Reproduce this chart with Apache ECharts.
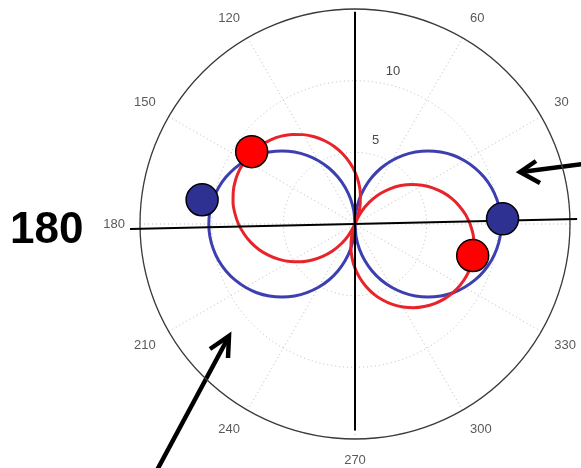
<!DOCTYPE html>
<html>
<head>
<meta charset="utf-8">
<script src="https://cdn.jsdelivr.net/npm/echarts@6/dist/echarts.min.js"></script>
<style>
  html, body { margin: 0; padding: 0; background: #fff; }
  #chart { width: 581px; height: 468px; }
</style>
</head>
<body>
<div id="chart"></div>
<script>
// Angles (degrees) at which the two lobed patterns are sampled
const angles = [0, 5, 10, 15, 20, 25, 30, 35, 40, 45, 50, 55, 60, 65, 70, 75, 80, 85, 90,
                95, 100, 105, 110, 115, 120, 125, 130, 135, 140, 145, 150, 155, 160, 165, 170, 175, 180,
                185, 190, 195, 200, 205, 210, 215, 220, 225, 230, 235, 240, 245, 250, 255, 260, 265, 270,
                275, 280, 285, 290, 295, 300, 305, 310, 315, 320, 325, 330, 335, 340, 345, 350, 355, 360];
// Blue pattern: symmetric figure-eight along the 0/180 axis
const blueR = [10.2, 10.16, 10.04, 9.85, 9.58, 9.24, 8.83, 8.36, 7.81, 7.21, 6.56, 5.85, 5.10, 4.31, 3.49, 2.64, 1.77, 0.89, 0.0,
               0.89, 1.77, 2.64, 3.49, 4.31, 5.10, 5.85, 6.56, 7.21, 7.81, 8.36, 8.83, 9.24, 9.58, 9.85, 10.04, 10.16, 10.2,
               10.16, 10.04, 9.85, 9.58, 9.24, 8.83, 8.36, 7.81, 7.21, 6.56, 5.85, 5.10, 4.31, 3.49, 2.64, 1.77, 0.89, 0.0,
               0.89, 1.77, 2.64, 3.49, 4.31, 5.10, 5.85, 6.56, 7.21, 7.81, 8.36, 8.83, 9.24, 9.58, 9.85, 10.04, 10.16, 10.2];
// Red pattern: figure-eight tilted about 20 degrees clockwise
const redR = [8.03, 7.73, 7.37, 6.96, 6.49, 5.97, 5.41, 4.81, 4.17, 3.50, 2.80, 2.08, 1.35, 0.60, 0.0, 1.39, 2.15, 2.90, 3.62,
              4.31, 4.98, 5.60, 6.18, 6.72, 7.20, 7.63, 8.00, 8.31, 8.56, 8.74, 8.85, 8.90, 8.88, 8.79, 8.64, 8.41, 8.13,
              7.78, 7.38, 6.92, 6.40, 5.84, 5.23, 4.58, 3.90, 3.19, 2.45, 1.70, 0.93, 0.16, 0.0, 0.90, 1.64, 2.37, 3.08,
              3.77, 4.43, 5.06, 5.64, 6.19, 6.68, 7.13, 7.52, 7.86, 8.13, 8.34, 8.49, 8.58, 8.60, 8.55, 8.44, 8.27, 8.03];

// Highlighted points: [radius, angle]
const bluePoints = [[10.8, 171], [10.3, 2]];
const redPoints = [[8.8, 145], [8.5, 345]];

// Black reference cross through the origin: [radius, angle] end points
const crossVertical = [[14.8, 90], [14.4, 270]];
const crossHorizontal = [[15.7, 181.3], [15.5, 1.3]];

// Axis ticks
const angleTicks = [0, 30, 60, 90, 120, 150, 180, 210, 240, 270, 300, 330];
const radiusTicks = [5, 10];

const chart = echarts.init(document.getElementById('chart'), null, { renderer: 'canvas' });

const FONT = '"Liberation Sans", Arial, sans-serif';
const CX = 355, CY = 224, R = 215;

const option = {
  backgroundColor: '#ffffff',
  animation: false,
  polar: [
    { center: [CX, CY], radius: R },
    // carries the radial tick labels along the 76 degree ray
    { center: [CX, CY], radius: [14, R + 14] },
    // same scale as the main frame, extended to 16 so the cross can run past the rim
    { center: [CX, CY], radius: R * 16 / 15 }
  ],
  angleAxis: [
    {
      polarIndex: 0,
      type: 'value',
      min: 0, max: 360, interval: 30,
      startAngle: 0,
      clockwise: false,
      axisLine: { show: true, lineStyle: { color: '#3a3a3a', width: 1.3 } },
      axisTick: { show: false },
      axisLabel: {
        margin: 15,
        color: '#5a5a5a',
        fontSize: 13,
        fontFamily: FONT,
        formatter: v => (angleTicks.indexOf(v) >= 0 ? String(v) : '')
      },
      splitLine: { show: true, lineStyle: { color: '#bdbdbd', width: 1, type: [1, 3] } }
    },
    {
      polarIndex: 1,
      type: 'value',
      min: 0, max: 360,
      startAngle: 76,
      clockwise: false,
      show: false
    },
    {
      polarIndex: 2,
      type: 'value',
      min: 0, max: 360,
      startAngle: 0,
      clockwise: false,
      show: false
    }
  ],
  radiusAxis: [
    {
      polarIndex: 0,
      type: 'value',
      min: 0, max: 15, interval: 5,
      axisLine: { show: false },
      axisTick: { show: false },
      axisLabel: { show: false },
      splitLine: { show: true, lineStyle: { color: '#bdbdbd', width: 1, type: [1, 3] } }
    },
    {
      polarIndex: 1,
      type: 'value',
      min: 0, max: 15, interval: 5,
      axisLine: { show: false },
      axisTick: { show: false },
      splitLine: { show: false },
      axisLabel: {
        margin: 0,
        align: 'center',
        verticalAlign: 'middle',
        color: '#4a4a4a',
        fontSize: 13,
        fontFamily: FONT,
        formatter: v => (radiusTicks.indexOf(v) >= 0 ? String(v) : '')
      }
    },
    {
      polarIndex: 2,
      type: 'value',
      min: 0, max: 16,
      show: false
    }
  ],
  series: [
    {
      type: 'line',
      coordinateSystem: 'polar',
      polarIndex: 0,
      data: angles.map((a, i) => [blueR[i], a]),
      smooth: 0.3,
      showSymbol: false,
      lineStyle: { color: '#3d3fb0', width: 3 },
      z: 2
    },
    {
      type: 'line',
      coordinateSystem: 'polar',
      polarIndex: 0,
      data: angles.map((a, i) => [redR[i], a]),
      smooth: 0.3,
      showSymbol: false,
      lineStyle: { color: '#e8232a', width: 3 },
      z: 3
    },
    {
      type: 'line',
      coordinateSystem: 'polar',
      polarIndex: 2,
      data: crossVertical,
      showSymbol: false,
      clip: false,
      lineStyle: { color: '#000', width: 2 },
      z: 4
    },
    {
      type: 'line',
      coordinateSystem: 'polar',
      polarIndex: 2,
      data: crossHorizontal,
      showSymbol: false,
      clip: false,
      lineStyle: { color: '#000', width: 2 },
      z: 4
    },
    {
      type: 'scatter',
      coordinateSystem: 'polar',
      polarIndex: 0,
      data: bluePoints,
      symbolSize: 32,
      itemStyle: { color: '#2e3192', borderColor: '#000', borderWidth: 1.5, opacity: 1 },
      z: 5
    },
    {
      type: 'scatter',
      coordinateSystem: 'polar',
      polarIndex: 0,
      data: redPoints,
      symbolSize: 32,
      itemStyle: { color: '#ff0000', borderColor: '#000', borderWidth: 1.5, opacity: 1 },
      z: 5
    }
  ],
  graphic: [
    {
      type: 'text',
      left: 10, top: 209,
      style: { text: '180', fontSize: 44, fontWeight: 'bold', fontFamily: FONT, fill: '#000' }
    },
    // pointer toward the blue lobe on the right
    {
      type: 'polyline',
      shape: { points: [[590, 163], [521, 172]] },
      style: { stroke: '#000', lineWidth: 4.5, fill: null }
    },
    {
      type: 'polyline',
      shape: { points: [[536, 161], [520, 172], [540, 183]] },
      style: { stroke: '#000', lineWidth: 4.5, fill: null, lineJoin: 'miter' }
    },
    // pointer toward the lower-left side of the pattern
    {
      type: 'polyline',
      shape: { points: [[156, 472], [228, 338]] },
      style: { stroke: '#000', lineWidth: 4.5, fill: null }
    },
    {
      type: 'polyline',
      shape: { points: [[210, 349], [229, 336], [228, 358]] },
      style: { stroke: '#000', lineWidth: 4.5, fill: null, lineJoin: 'miter' }
    }
  ]
};

chart.setOption(option);
</script>
</body>
</html>
